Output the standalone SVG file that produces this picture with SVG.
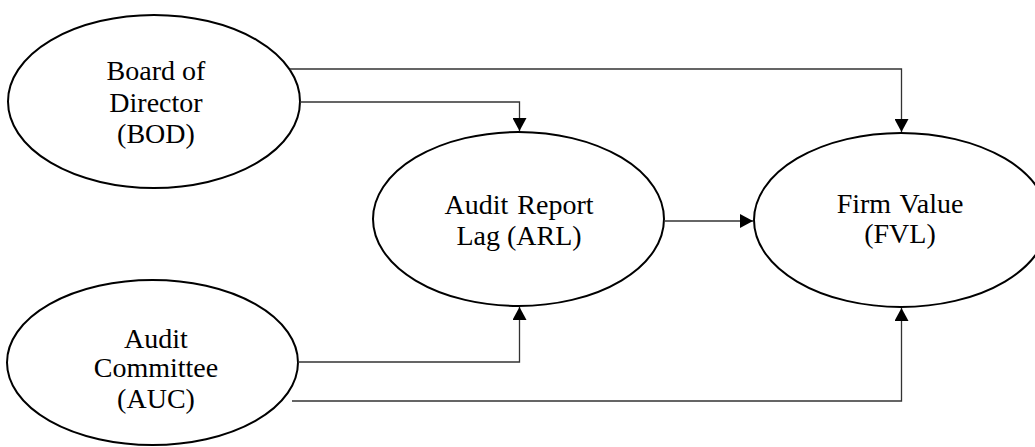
<svg xmlns="http://www.w3.org/2000/svg" width="1035" height="447" viewBox="0 0 1035 447">
<style>
.node{fill:#fff;stroke:#000;stroke-width:2}
.lbl{font-family:"Liberation Serif","Times New Roman",serif;font-size:28px;fill:#000;text-anchor:middle}
.conn{fill:none;stroke:#333;stroke-width:1.3}
</style>
<defs>
<marker id="arr" markerUnits="userSpaceOnUse" markerWidth="14" markerHeight="14" refX="13" refY="7" orient="auto">
<path d="M0,0 L13,7 L0,14 Z" fill="#000"/>
</marker>
</defs>
<rect width="1035" height="447" fill="#fff"/>
<g id="BOD">
<ellipse class="node" cx="154" cy="101.5" rx="146" ry="86.5"/>
<text class="lbl" x="156" y="80">Board of</text>
<text class="lbl" x="156" y="111.5">Director</text>
<text class="lbl" x="156" y="143">(BOD)</text>
</g>
<g id="AUC">
<ellipse class="node" cx="152.5" cy="362.5" rx="145.5" ry="82.5"/>
<text class="lbl" x="156" y="348">Audit</text>
<text class="lbl" x="156" y="377">Committee</text>
<text class="lbl" x="156" y="407.5">(AUC)</text>
</g>
<g id="ARL">
<ellipse class="node" cx="518.5" cy="219" rx="145.5" ry="87"/>
<text class="lbl" x="519" y="214" word-spacing="2">Audit Report</text>
<text class="lbl" x="519" y="245">Lag (ARL)</text>
</g>
<g id="FVL">
<ellipse class="node" cx="901" cy="220" rx="147" ry="87"/>
<text class="lbl" x="900" y="213" word-spacing="2">Firm Value</text>
<text class="lbl" x="900" y="243">(FVL)</text>
</g>
<g id="connectors">
<path class="conn" d="M290,69 H901.5 V132" marker-end="url(#arr)"/>
<path class="conn" d="M300,102 H519.5 V131" marker-end="url(#arr)"/>
<path class="conn" d="M664,221 H753" marker-end="url(#arr)"/>
<path class="conn" d="M298,362 H519.5 V307" marker-end="url(#arr)"/>
<path class="conn" d="M292,401 H901.5 V308" marker-end="url(#arr)"/>
</g>
</svg>
